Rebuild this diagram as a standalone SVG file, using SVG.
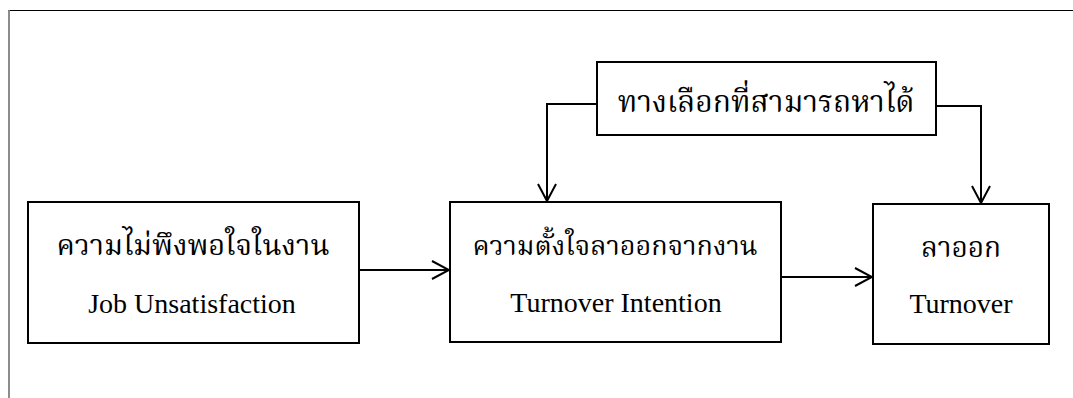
<svg xmlns="http://www.w3.org/2000/svg" width="1073" height="398" viewBox="0 0 1073 398">
<defs>
<style>
.box{fill:#fff;stroke:#000;stroke-width:2}
.con{fill:none;stroke:#000;stroke-width:2}
.th{font-family:"Liberation Serif","Noto Serif Thai","Noto Sans Thai",serif;font-size:28px;fill:#000;text-anchor:middle}
.en{font-family:"Liberation Serif","Times New Roman",serif;font-size:28px;fill:#000;text-anchor:middle}
</style>
<marker id="arr" markerUnits="userSpaceOnUse" markerWidth="20" markerHeight="20" refX="18" refY="10" orient="auto">
<path d="M1,1 L18,10 L1,19" fill="none" stroke="#000" stroke-width="2"/>
</marker>
</defs>
<rect width="1073" height="398" fill="#fff"/>
<g id="frame">
<line x1="8" y1="10.5" x2="1073" y2="10.5" stroke="#000" stroke-width="1"/>
<line x1="9" y1="10" x2="9" y2="398" stroke="#808080" stroke-width="1.8"/>
</g>
<g id="connectors">
<path class="con" d="M597,104 H547 V201" marker-end="url(#arr)"/>
<path class="con" d="M936,106 H981 V203" marker-end="url(#arr)"/>
<path class="con" d="M359,270 H449" marker-end="url(#arr)"/>
<path class="con" d="M781,277 H872" marker-end="url(#arr)"/>
</g>
<g id="node-job">
<rect class="box" x="28" y="202" width="331" height="141"/>
<text class="th" x="193" y="255" style="font-size:29px">ความไม่พึงพอใจในงาน</text>
<text class="en" x="192" y="313">Job Unsatisfaction</text>
</g>
<g id="node-intention">
<rect class="box" x="450" y="202" width="331" height="140"/>
<text class="th" x="615" y="255" style="font-size:27px">ความตั้งใจลาออกจากงาน</text>
<text class="en" x="616" y="312">Turnover Intention</text>
</g>
<g id="node-turnover">
<rect class="box" x="873" y="204" width="176" height="140"/>
<text class="th" x="961" y="257">ลาออก</text>
<text class="en" x="961" y="313">Turnover</text>
</g>
<g id="node-alternatives">
<rect class="box" x="597" y="62" width="339" height="73"/>
<text class="th" x="766" y="112" style="font-size:30px">ทางเลือกที่สามารถหาได้</text>
</g>
</svg>
